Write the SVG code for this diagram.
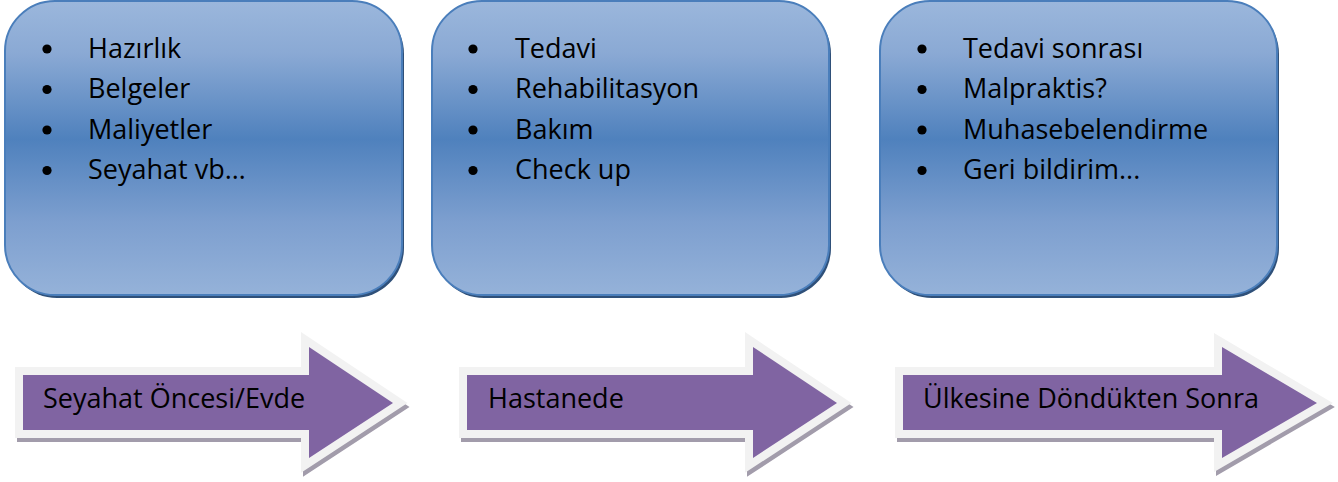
<svg xmlns="http://www.w3.org/2000/svg" width="1338" height="482" viewBox="0 0 1338 482">
<defs>
<linearGradient id="boxGrad" x1="0" y1="0" x2="0" y2="1">
<stop offset="0" stop-color="#9bb7dc"/>
<stop offset="0.18" stop-color="#8aa9d4"/>
<stop offset="0.47" stop-color="#4f81bd"/>
<stop offset="0.75" stop-color="#7d9fcf"/>
<stop offset="1" stop-color="#95b2d9"/>
</linearGradient>
</defs>
<style>
.box{fill:url(#boxGrad);stroke:#4a7ebb;stroke-width:2}
.boxShadow{fill:#2f5079}
.item{font-family:"Open Sans","Liberation Sans",sans-serif;font-size:27px;fill:#000}
.bullet{fill:#000}
.arrowShadow{fill:#a29cab;stroke:#a29cab;stroke-width:16;stroke-linejoin:miter}
.arrowBorder{fill:#f2f2f2;stroke:#f2f2f2;stroke-width:16;stroke-linejoin:miter}
.arrow{fill:#8064a2}
.label{font-family:"Open Sans","Liberation Sans",sans-serif;font-size:27px;fill:#000}
</style>
<g id="box1">
<rect class="boxShadow" x="7" y="4" width="397" height="294" rx="50"/>
<rect class="box" x="5" y="1" width="397" height="294" rx="50"/>
<circle class="bullet" cx="47" cy="49" r="4.6"/>
<circle class="bullet" cx="47" cy="89.5" r="4.6"/>
<circle class="bullet" cx="47" cy="130" r="4.6"/>
<circle class="bullet" cx="47" cy="170.5" r="4.6"/>
<text class="item" x="88" y="57.5">Hazırlık</text>
<text class="item" x="88" y="98">Belgeler</text>
<text class="item" x="88" y="138.5">Maliyetler</text>
<text class="item" x="88" y="179">Seyahat vb…</text>
</g>
<g id="box2">
<rect class="boxShadow" x="434" y="4" width="397" height="294" rx="50"/>
<rect class="box" x="432" y="1" width="397" height="294" rx="50"/>
<circle class="bullet" cx="473" cy="49" r="4.6"/>
<circle class="bullet" cx="473" cy="89.5" r="4.6"/>
<circle class="bullet" cx="473" cy="130" r="4.6"/>
<circle class="bullet" cx="473" cy="170.5" r="4.6"/>
<text class="item" x="515" y="57.5">Tedavi</text>
<text class="item" x="515" y="98">Rehabilitasyon</text>
<text class="item" x="515" y="138.5">Bakım</text>
<text class="item" x="515" y="179">Check up</text>
</g>
<g id="box3">
<rect class="boxShadow" x="882" y="4" width="397" height="294" rx="50"/>
<rect class="box" x="880" y="1" width="397" height="294" rx="50"/>
<circle class="bullet" cx="922" cy="49" r="4.6"/>
<circle class="bullet" cx="922" cy="89.5" r="4.6"/>
<circle class="bullet" cx="922" cy="130" r="4.6"/>
<circle class="bullet" cx="922" cy="170.5" r="4.6"/>
<text class="item" x="963" y="57.5">Tedavi sonrası</text>
<text class="item" x="963" y="98">Malpraktis?</text>
<text class="item" x="963" y="138.5">Muhasebelendirme</text>
<text class="item" x="963" y="179">Geri bildirim...</text>
</g>
<g id="connectors">
<g id="arrow1">
<path class="arrowShadow" transform="translate(2,4)" d="M23,375 H309 V347 L393,403 L309,458 V430 H23 Z"/>
<path class="arrowBorder" d="M23,375 H309 V347 L393,403 L309,458 V430 H23 Z"/>
<path class="arrow" d="M23,375 H309 V347 L393,403 L309,458 V430 H23 Z"/>
<text class="label" x="43" y="408">Seyahat Öncesi/Evde</text>
</g>
<g id="arrow2">
<path class="arrowShadow" transform="translate(2,4)" d="M467,375 H753 V347 L837,403 L753,458 V430 H467 Z"/>
<path class="arrowBorder" d="M467,375 H753 V347 L837,403 L753,458 V430 H467 Z"/>
<path class="arrow" d="M467,375 H753 V347 L837,403 L753,458 V430 H467 Z"/>
<text class="label" x="488" y="408">Hastanede</text>
</g>
<g id="arrow3">
<path class="arrowShadow" transform="translate(2,4)" d="M903,375 H1222 V347 L1317,403 L1222,458 V430 H903 Z"/>
<path class="arrowBorder" d="M903,375 H1222 V347 L1317,403 L1222,458 V430 H903 Z"/>
<path class="arrow" d="M903,375 H1222 V347 L1317,403 L1222,458 V430 H903 Z"/>
<text class="label" x="923" y="408">Ülkesine Döndükten Sonra</text>
</g>
</g>
</svg>
